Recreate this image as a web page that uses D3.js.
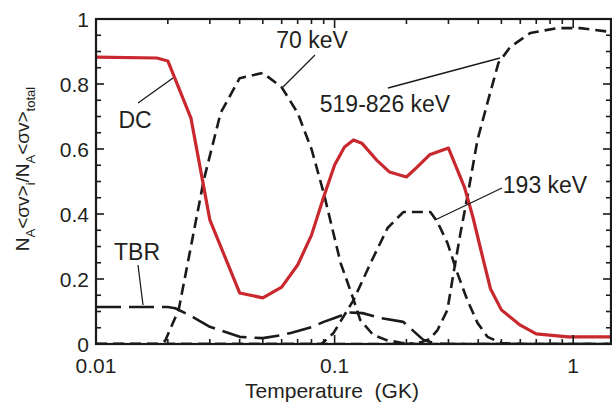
<!DOCTYPE html>
<html>
<head>
<meta charset="utf-8">
<script src="https://cdn.jsdelivr.net/npm/d3@7"></script>
<style>
  body { margin: 0; background: #fff; }
  text { font-family: "Liberation Sans", Arial, Helvetica, sans-serif; fill: #231f20; }
</style>
</head>
<body>
<svg id="chart" width="612" height="408"></svg>
<script>
// temperature grid (GK) and fractions, one pair per curve
const dcT = [0.01, 0.018, 0.02, 0.025, 0.03, 0.04, 0.05, 0.06, 0.07, 0.08, 0.09, 0.1, 0.11, 0.12, 0.13, 0.15, 0.17, 0.2, 0.22, 0.25, 0.3, 0.35, 0.38, 0.41, 0.45, 0.5, 0.6, 0.7, 0.95, 1.44];
const dcV = [0.883, 0.88, 0.871, 0.695, 0.382, 0.157, 0.142, 0.175, 0.243, 0.335, 0.452, 0.551, 0.606, 0.628, 0.618, 0.566, 0.529, 0.514, 0.542, 0.582, 0.603, 0.483, 0.39, 0.29, 0.17, 0.105, 0.058, 0.031, 0.022, 0.022];

const kev70T = [0.01, 0.018, 0.0195, 0.0222, 0.025, 0.0283, 0.0333, 0.04, 0.05, 0.06, 0.07, 0.08, 0.09, 0.106, 0.119, 0.128, 0.145, 0.165, 0.19, 0.22, 1.44];
const kev70V = [0, 0, 0.01, 0.105, 0.3, 0.505, 0.711, 0.818, 0.834, 0.79, 0.711, 0.6, 0.465, 0.249, 0.145, 0.074, 0.028, 0.012, 0.004, 0, 0];

const kev193T = [0.01, 0.088, 0.09, 0.099, 0.12, 0.1415, 0.1667, 0.194, 0.252, 0.27, 0.297, 0.327, 0.36, 0.397, 0.437, 0.5, 0.6, 1.44];
const kev193V = [0, 0, 0.006, 0.034, 0.135, 0.249, 0.357, 0.406, 0.406, 0.375, 0.311, 0.218, 0.135, 0.065, 0.022, 0.003, 0, 0];

const kev519T = [0.01, 0.2, 0.23, 0.25, 0.27, 0.297, 0.315, 0.337, 0.36, 0.397, 0.437, 0.486, 0.545, 0.661, 0.857, 1.07, 1.44];
const kev519V = [0, 0, 0.005, 0.015, 0.043, 0.105, 0.218, 0.342, 0.452, 0.628, 0.742, 0.865, 0.914, 0.957, 0.972, 0.972, 0.96];

const tbrT = [0.01, 0.02, 0.0215, 0.0255, 0.03, 0.04, 0.05, 0.06, 0.0655, 0.08, 0.09, 0.1, 0.115, 0.131, 0.156, 0.194, 0.236, 0.26, 0.3, 1.44];
const tbrV = [0.114, 0.114, 0.11, 0.083, 0.053, 0.022, 0.018, 0.027, 0.034, 0.052, 0.068, 0.08, 0.097, 0.095, 0.08, 0.068, 0.012, 0.003, 0, 0];

const xTickLabels = [0.01, 0.1, 1];
const yTickLabels = [0, 0.2, 0.4, 0.6, 0.8, 1];

const svg = d3.select("#chart");
const mLeft = 96, mRight = 611, mTop = 19, mBottom = 344;

const x = d3.scaleLog().domain([0.01, 1.44]).range([mLeft, mRight]);
const y = d3.scaleLinear().domain([0, 1]).range([mBottom, mTop]);

// minor ticks: 2..9 of each decade inside the domain
const xMinor = [];
[0.01, 0.1, 1].forEach((dec) => {
  for (let k = 2; k <= 9; k++) if (dec * k <= 1.44) xMinor.push(dec * k);
});
const yMinor = d3.range(0, 1.0001, 0.05);

svg.append("defs").append("clipPath").attr("id", "plot")
  .append("rect").attr("x", mLeft).attr("y", mTop)
  .attr("width", mRight - mLeft).attr("height", mBottom - mTop);

const line = d3.line().x((d) => x(d[0])).y((d) => y(d[1]));
const zip = (ts, vs) => ts.map((t, i) => [t, vs[i]]);

const curves = svg.append("g").attr("clip-path", "url(#plot)");

const series = [
  { pts: zip(tbrT, tbrV), color: "#1a1a1a", w: 2.6, dash: "25,8" },
  { pts: zip(kev70T, kev70V), color: "#1a1a1a", w: 2.6, dash: "11,6" },
  { pts: zip(kev193T, kev193V), color: "#1a1a1a", w: 2.6, dash: "11,6" },
  { pts: zip(kev519T, kev519V), color: "#1a1a1a", w: 2.6, dash: "11,6" },
  { pts: zip(dcT, dcV), color: "#c8282e", w: 3.2, dash: null },
];

series.forEach((s) => {
  curves.append("path")
    .attr("d", line(s.pts))
    .attr("fill", "none")
    .attr("stroke", s.color)
    .attr("stroke-width", s.w)
    .attr("stroke-linejoin", "round")
    .attr("stroke-dasharray", s.dash);
});

// frame
svg.append("rect")
  .attr("x", mLeft).attr("y", mTop)
  .attr("width", mRight - mLeft).attr("height", mBottom - mTop)
  .attr("fill", "none").attr("stroke", "#1a1a1a").attr("stroke-width", 2.2);

// inward ticks on all four sides
const ticks = svg.append("g").attr("stroke", "#1a1a1a").attr("stroke-width", 1.6);
const xAll = xMinor.map((v) => [v, 5]).concat(xTickLabels.map((v) => [v, 9]));
xAll.forEach(([v, len]) => {
  ticks.append("line").attr("x1", x(v)).attr("x2", x(v)).attr("y1", mBottom).attr("y2", mBottom - len);
  ticks.append("line").attr("x1", x(v)).attr("x2", x(v)).attr("y1", mTop).attr("y2", mTop + len);
});
yMinor.forEach((v) => {
  const major = Math.abs(v * 5 - Math.round(v * 5)) < 1e-6;
  const len = major ? 8 : 5;
  ticks.append("line").attr("x1", mLeft).attr("x2", mLeft + len).attr("y1", y(v)).attr("y2", y(v));
  ticks.append("line").attr("x1", mRight).attr("x2", mRight - len).attr("y1", y(v)).attr("y2", y(v));
});

// tick labels
svg.append("g").selectAll("text").data(xTickLabels).join("text")
  .attr("x", (d) => x(d)).attr("y", 373)
  .attr("text-anchor", "middle").attr("font-size", 21)
  .text((d) => String(d));

svg.append("g").selectAll("text").data(yTickLabels).join("text")
  .attr("x", 89).attr("y", (d) => y(d) + 7.5)
  .attr("text-anchor", "end").attr("font-size", 21)
  .text((d) => String(d));

// axis titles
svg.append("text")
  .attr("x", 332).attr("y", 398)
  .attr("text-anchor", "middle").attr("font-size", 21)
  .text("Temperature\u00a0\u00a0(GK)");

const yl = svg.append("text")
  .attr("transform", "translate(29,169) rotate(-90)")
  .attr("text-anchor", "middle").attr("font-size", 19);
const parts = [["N", 0], ["A", 1], ["<σv>", 0], ["i", 1], ["/N", 0], ["A", 1], ["<σv>", 0], ["total", 1]];
let shifted = false;
parts.forEach(([s, sub]) => {
  const t = yl.append("tspan").text(s);
  if (sub && !shifted) { t.attr("dy", 6).attr("font-size", 13); shifted = true; }
  else if (sub) { t.attr("font-size", 13); }
  else if (shifted) { t.attr("dy", -6); shifted = false; }
});

// annotations with leader lines
const notes = [
  { text: "DC", tx: 135, ty: 128, l: [[138, 103], [173, 78]] },
  { text: "70 keV", tx: 312, ty: 48, l: [[315, 55], [283, 87]] },
  { text: "519-826 keV", tx: 385, ty: 112, l: [[388, 88], [500, 58]] },
  { text: "193 keV", tx: 545, ty: 193, l: [[502, 188], [435, 220]] },
  { text: "TBR", tx: 137, ty: 260, l: [[138, 265], [143, 305]] },
];
notes.forEach((n) => {
  svg.append("text").attr("x", n.tx).attr("y", n.ty)
    .attr("text-anchor", "middle").attr("font-size", 23).text(n.text);
  svg.append("line")
    .attr("x1", n.l[0][0]).attr("y1", n.l[0][1])
    .attr("x2", n.l[1][0]).attr("y2", n.l[1][1])
    .attr("stroke", "#1a1a1a").attr("stroke-width", 1.3);
});
</script>
</body>
</html>
